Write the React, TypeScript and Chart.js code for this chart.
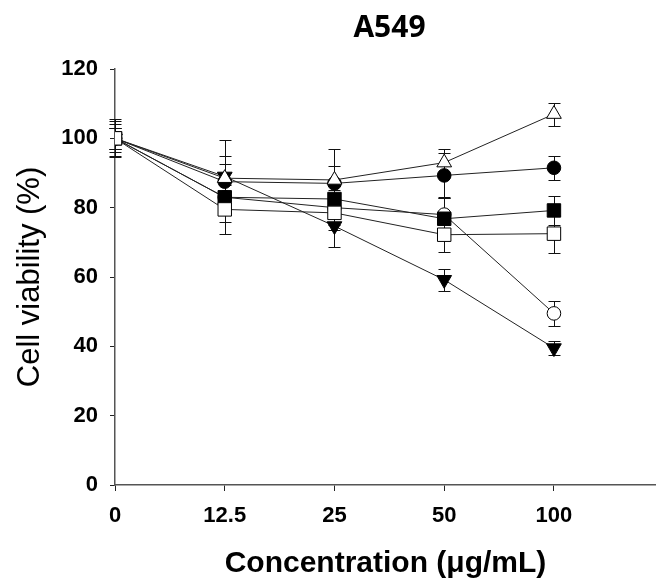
import { useEffect, useRef } from 'react';
import { Chart, registerables } from 'chart.js';

Chart.register(...registerables);

const concentrations = ['0', '12.5', '25', '50', '100'];
const yTickValues = [0, 20, 40, 60, 80, 100, 120];

const openTriangle = [100, 88.5, 88, 93, 107];
const openTriangleErr = [3, 4, 9, 4, 3.3];
const filledCircle = [100, 87.5, 87, 89.3, 91.5];
const filledCircleErr = [3, 7.5, 5, 6.5, 3.5];
const filledSquare = [100, 83, 82.5, 76.8, 79.2];
const filledSquareErr = [4, 7, 5, 6, 4.2];
const openSquare = [100, 79.5, 78.5, 72.2, 72.5];
const openSquareErr = [5.5, 7, 5, 5, 5.5];
const openCircle = [100, 83, 80, 78, 49.5];
const openCircleErr = [3, 5, 5, 5, 3.7];
const filledTriangle = [100, 89, 74.7, 59.2, 39.5];
const filledTriangleErr = [5, 10.5, 6, 3.2, 2];

const FONT = "'Liberation Sans', Arial, sans-serif";

const errorBarPlugin = {
  id: 'errorBars',
  beforeDatasetsDraw(chart: any) {
    const { ctx, scales } = chart;
    const xs = scales.x;
    const ys = scales.y;
    ctx.save();
    ctx.strokeStyle = '#111';
    ctx.lineWidth = 1;
    chart.data.datasets.forEach((ds: any) => {
      const errs: number[] = ds.errors || [];
      ds.data.forEach((pt: any, i: number) => {
        const e = errs[i];
        if (!e) return;
        const px = Math.round(xs.getPixelForValue(pt.x)) + 0.5;
        const top = Math.round(ys.getPixelForValue(pt.y + e)) + 0.5;
        const bot = Math.round(ys.getPixelForValue(pt.y - e)) + 0.5;
        ctx.beginPath();
        ctx.moveTo(px, top);
        ctx.lineTo(px, bot);
        ctx.moveTo(px - 6, top);
        ctx.lineTo(px + 6, top);
        ctx.moveTo(px - 6, bot);
        ctx.lineTo(px + 6, bot);
        ctx.stroke();
      });
    });
    ctx.restore();
  },
};

const titlePlugin = {
  id: 'topTitle',
  afterDraw(chart: any) {
    const { ctx, chartArea } = chart;
    ctx.save();
    ctx.fillStyle = '#000';
    ctx.font = "bold 30px 'Open Sans', 'Noto Sans', sans-serif";
    ctx.textAlign = 'center';
    ctx.textBaseline = 'middle';
    ctx.fillText('A549', (chartArea.left + chartArea.right) / 2 + 4, 28);
    ctx.restore();
  },
};

function toPoints(values: number[]) {
  return values.map((v, i) => ({ x: i, y: v }));
}

export default function App() {
  const ref = useRef<HTMLCanvasElement | null>(null);

  useEffect(() => {
    document.body.style.margin = '0';
    if (!ref.current) return;
    const common = {
      borderColor: '#222',
      borderWidth: 1,
      pointBorderColor: '#000',
      pointBorderWidth: 1,
      showLine: true,
      tension: 0,
    };
    const chart = new Chart(ref.current, {
      type: 'scatter',
      data: {
        datasets: [
          { ...common, label: 'open square', data: toPoints(openSquare), errors: openSquareErr, pointStyle: 'rect', pointRadius: 9.5, pointBackgroundColor: '#fff', order: 0 } as any,
          { ...common, label: 'open triangle', data: toPoints(openTriangle), errors: openTriangleErr, pointStyle: 'triangle', pointRadius: 8.5, pointBackgroundColor: '#fff', order: 1 } as any,
          { ...common, label: 'filled circle', data: toPoints(filledCircle), errors: filledCircleErr, pointStyle: 'circle', pointRadius: 6.8, pointBackgroundColor: '#000', order: 2 } as any,
          { ...common, label: 'filled square', data: toPoints(filledSquare), errors: filledSquareErr, pointStyle: 'rect', pointRadius: 9.5, pointBackgroundColor: '#000', order: 3 } as any,
          { ...common, label: 'open circle', data: toPoints(openCircle), errors: openCircleErr, pointStyle: 'circle', pointRadius: 6.8, pointBackgroundColor: '#fff', order: 4 } as any,
          { ...common, label: 'filled triangle', data: toPoints(filledTriangle), errors: filledTriangleErr, pointStyle: 'triangle', pointRotation: 180, pointRadius: 8.5, pointBackgroundColor: '#000', order: 5 } as any,
        ],
      },
      options: {
        animation: false,
        responsive: true,
        maintainAspectRatio: false,
        layout: { autoPadding: false, padding: { top: 69, right: 0, left: 0, bottom: 0 } },
        plugins: {
          legend: { display: false },
          tooltip: { enabled: false },
          title: { display: false },
        },
        scales: {
          x: {
            type: 'linear',
            min: 0,
            max: 4.93,
            afterBuildTicks: (scale: any) => {
              scale.ticks = concentrations.map((_, i) => ({ value: i }));
            },
            afterFit: (scale: any) => {
              scale.height = 100;
              scale.paddingRight = 0;
              scale.paddingLeft = 0;
            },
            ticks: {
              callback: (v: any) => concentrations[v as number] ?? '',
              color: '#000',
              font: { family: FONT, size: 22, weight: 'bold' },
              padding: 12,
              maxRotation: 0,
              autoSkip: false,
            },
            grid: { display: true, drawOnChartArea: false, drawTicks: true, tickLength: 6, color: '#222' },
            border: { display: true, color: '#555', width: 1.5 },
            title: {
              display: true,
              text: 'Concentration (\u03bcg/mL)',
              color: '#000',
              font: { family: FONT, size: 30, weight: 'bold' },
              padding: { top: 4, bottom: 3 },
            },
          },
          y: {
            type: 'linear',
            min: 0,
            max: 120,
            afterBuildTicks: (scale: any) => {
              scale.ticks = yTickValues.map((v) => ({ value: v }));
            },
            afterFit: (scale: any) => {
              scale.width = 115;
            },
            ticks: {
              color: '#000',
              font: { family: FONT, size: 22, weight: 'bold' },
              padding: 12,
            },
            grid: { display: true, drawOnChartArea: false, drawTicks: true, tickLength: 5, color: '#222' },
            border: { display: true, color: '#555', width: 1.5 },
            title: {
              display: true,
              text: 'Cell viability (%)',
              color: '#000',
              font: { family: FONT, size: 31, weight: 'normal' },
              padding: { top: 12, bottom: 0 },
            },
          },
        },
      } as any,
      plugins: [errorBarPlugin, titlePlugin],
    });
    return () => chart.destroy();
  }, []);

  return (
    <div style={{ position: 'relative', width: 656, height: 585, background: '#fff' }}>
      <canvas ref={ref} />
    </div>
  );
}
